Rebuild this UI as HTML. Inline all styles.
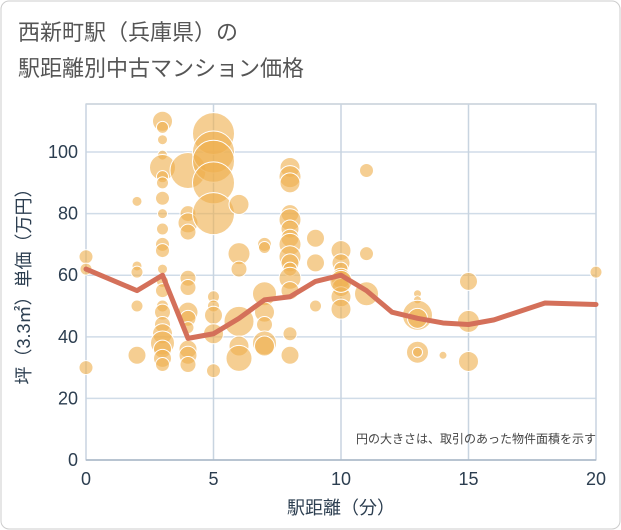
<!DOCTYPE html>
<html><head><meta charset="utf-8"><style>
html,body{margin:0;padding:0;background:#fff;}
svg{display:block;font-family:"Liberation Sans","Noto Sans CJK JP",sans-serif;}
</style></head><body>
<svg id="chart" width="621" height="530">
<rect x="1" y="1" width="619" height="528" rx="8" fill="#fff" stroke="#ccc"/>
<text x="18" y="40" font-size="22" fill="#555">西新町駅（兵庫県）の</text>
<text x="18" y="76" font-size="22" fill="#555">駅距離別中古マンション価格</text>
<g id="grid"></g>
<g id="bubbles"></g>
<g id="line"></g>
<g id="axes"></g>
<text x="596" y="443" font-size="12" fill="#444" text-anchor="end">円の大きさは、取引のあった物件面積を示す</text>
<text x="341" y="514" font-size="18" fill="#2c3e50" text-anchor="middle">駅距離（分）</text>
<text transform="translate(30,282) rotate(-90)" font-size="18" fill="#2c3e50" text-anchor="middle">坪（3.3㎡）単価（万円）</text>
</svg>
<script>
const xTicks=[0,5,10,15,20];
const yTicks=[0,20,40,60,80,100];
const lineX=[0,2,3,4,5,6,7,8,9,10,11,12,13,14,15,16,18,20];
const lineY=[62,55,60,39.5,41,46,52,53,58,60,55,48,46,44.5,44,45.5,51,50.5];
const bubbleX=[0,0,0,2,2,2,2,2,3,3,3,3,3,3,3,3,3,3,3,3,3,3,3,3,3,3,3,3,3,3,3,4,4,4,4,4,4,4,4,4,4,4,4,5,5,5,5,5,5,5,5,5,5,6,6,6,6,6,6,7,7,7,7,7,7,7,8,8,8,8,8,8,8,8,8,8,8,8,8,8,8,9,9,9,10,10,10,10,10,10,10,10,11,11,11,13,13,13,13,13,13,14,15,15,15,20];
const bubbleY=[66,62,30,84,63,61,50,34,110,108,104,99,95,92,90,85,80,75,70,68,62,58,55,50,48,44,41,38,36,33,31,94,80,77,74,59,56,48,46,43,36,34,31,106,100,97,90,80,53,50,47,41,29,83,67,62,45,37,33,70,69,54,48,44,38,37,95,92,90,80,78,75,72,70,66,64,62,59,55,41,34,72,64,50,68,64,62,59,56,53,49,58,94,67,54,54,52,47,46,35,35,34,58,45,32,61];
const bubbleSize=[7,6,7,5,5,6,6,9,10,6,5,5,13,6,6,7,5,6,7,7,5,6,7,6,8,8,10,12,9,9,7,18,8,10,8,8,8,10,8,6,9,9,8,21,21,21,21,21,6,6,9,10,7,10,11,8,15,10,13,7,6,12,10,8,12,10,10,11,10,9,11,9,9,11,11,9,7,11,9,7,9,9,9,6,10,9,7,10,9,10,10,11,7,7,12,4,4,15,10,11,5,4,9,11,10,6];
const X0=86,X1=596,Y0=460,Ytop=104,YMAX=115.6;
const sx=v=>X0+(X1-X0)*v/20;
const sy=v=>Y0-(Y0-Ytop)*v/YMAX;
const NS="http://www.w3.org/2000/svg";
function mk(tag,attrs,parent){const e=document.createElementNS(NS,tag);for(const k in attrs)e.setAttribute(k,attrs[k]);parent.appendChild(e);return e;}
const grid=document.getElementById('grid');
const bg=mk('rect',{x:X0,y:Ytop,width:X1-X0,height:Y0-Ytop,fill:'#fff',stroke:'#a9b7c6'},grid);


const axes=document.getElementById('axes');
yTicks.forEach(t=>{
 const l=mk('line',{x1:X0,x2:X1,y1:sy(t),y2:sy(t),stroke:'#d0dce8','stroke-width':1.5},grid);
 
 
 const tx=mk('text',{x:X0-8,y:sy(t)+6,'font-size':18,fill:'#2c3e50','text-anchor':'end'},axes);
 tx.textContent=t;
 
 
});
xTicks.forEach(t=>{
 const l=mk('line',{x1:sx(t),x2:sx(t),y1:Ytop,y2:Y0,stroke:'#c8d4e0','stroke-width':1.5},grid);
 
 
 const tx=mk('text',{x:sx(t),y:Y0+25,'font-size':18,fill:'#2c3e50','text-anchor':'middle'},axes);
 tx.textContent=t;
 
 
});
const ax=mk('line',{x1:X0,x2:X1,y1:Y0,y2:Y0,stroke:'#a9b7c6','stroke-width':1.5},axes);


const bub=document.getElementById('bubbles');
bubbleX.forEach((x,i)=>{
 const c=mk('circle',{cx:sx(x),cy:sy(bubbleY[i]),r:bubbleSize[i],fill:'#efb04f','fill-opacity':0.62,stroke:'#fff','stroke-width':1},bub);
 
 
});
const pts=lineX.map((x,i)=>sx(x)+','+sy(lineY[i])).join(' ');
const pl=mk('polyline',{points:pts,fill:'none',stroke:'#d4705a','stroke-width':5,'stroke-linejoin':'round','stroke-linecap':'round'},document.getElementById('line'));


</script>
</body></html>
